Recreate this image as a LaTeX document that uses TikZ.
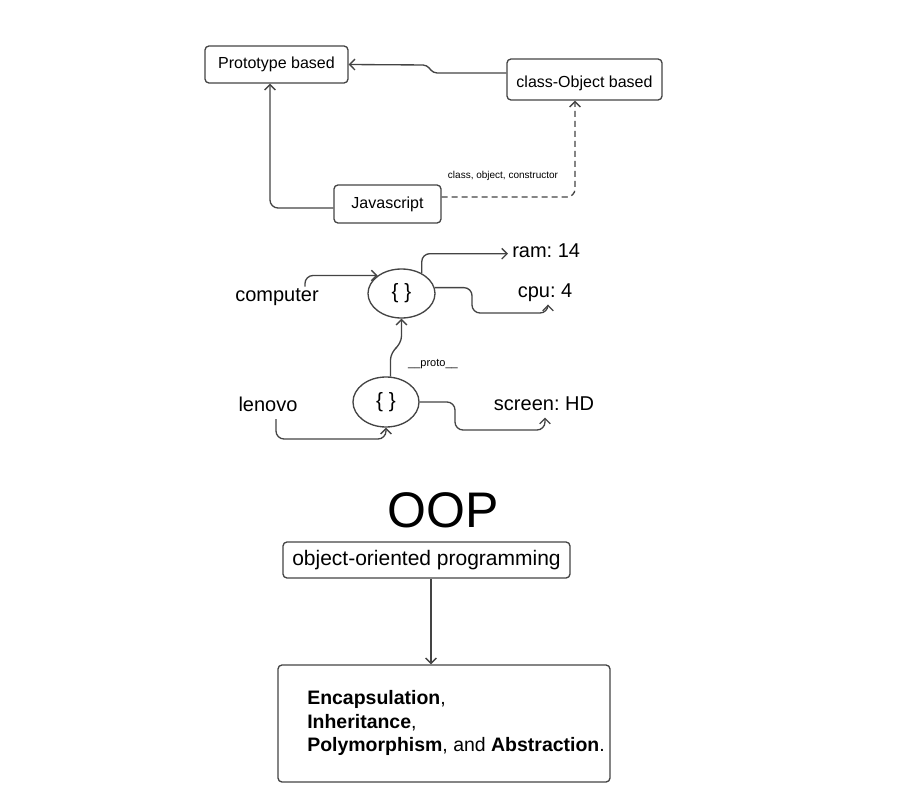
\documentclass[tikz,border=0pt]{standalone}
\usepackage{fontspec}
\setmainfont{Liberation Sans}
\usetikzlibrary{arrows.meta,shapes.geometric}
\definecolor{lc}{HTML}{444444}
\frenchspacing
\begin{document}
\frenchspacing
\begin{tikzpicture}[x=0.75pt,y=-0.75pt,
  box/.style={draw=lc, line width=1pt, rounded corners=3pt, fill=white, inner sep=0pt, font=\fontsize{12}{14}\selectfont},
  conn/.style={draw=lc, line width=1pt, -{Straight Barb[length=4pt,width=8pt]}, rounded corners=6pt},
  lbl/.style={inner sep=3pt, text height=0.75em, text depth=0.25em, font=\fontsize{15}{18}\selectfont},
  obj/.style={ellipse, draw=lc, line width=1pt, inner sep=0pt, font=\fontsize{15.5}{18}\selectfont}]
\useasboundingbox (0,0) rectangle (901,803);
% top part
\node[box, minimum width=107.25pt, minimum height=27.75pt] (proto) at (276.5,64.5) {Prototype based};
\node[box, minimum width=116.25pt, minimum height=30.75pt, text depth=0pt, text height=1.2em] (cob) at (584.5,79.5) {class-Object based};
\node[box, minimum width=80.25pt, minimum height=28.5pt] (js) at (387.5,204) {Javascript};
\node[font=\fontsize{7.5}{9}\selectfont] (cl) at (503,176) {class, object, constructor};
\draw[conn, rounded corners=3pt] (cob.west |- 0,73) -- (433,73) -- (427,65) -- (proto.east);
\draw[conn] (js.west |- 0,208) -| (proto.south -| 270,0);
\draw[conn, dash pattern=on 4.5pt off 3pt] (js.east |- 0,197) -| (cob.south -| 575,0);
% middle part
\node[obj, minimum width=50.25pt, minimum height=36.75pt] (e1) at (401.5,293.5) {\{ \}};
\node[obj, minimum width=49.5pt, minimum height=37.5pt] (e2) at (386,402) {\{ \}};
\node[lbl, anchor=base] (comp) at (277,301) {computer};
\node[lbl, anchor=base] (len) at (268,411.5) {lenovo};
\node[lbl, anchor=base west] (ram) at (508,257) {ram: 14};
\node[lbl, anchor=base] (cpu) at (545,297) {cpu: 4};
\node[lbl, anchor=base] (scr) at (544,410) {screen: HD};
\node[font=\fontsize{8.25}{10}\selectfont] (pr) at (433,364) {\_\_proto\_\_};
\draw[conn] (comp.north -| 305,0) |- (e1.143);
\draw[conn] (e1.45) |- (ram.west);
\draw[conn] (e1.10) -| (472,313) -| (cpu.south -| 548,0);
\draw[conn] (e2.80) -- (e2.80 |- 0,352) -- (e1.south |- 0,344) -- (e1.south);
\draw[conn] (len.south -| 276,0) |- (e2.south |- 0,439) -- (e2.south);
\draw[conn] (e2.east) -| (455,430) -| (scr.south -| 545,0);
% bottom part
\node[font=\fontsize{37.5}{40}\selectfont, anchor=base, inner sep=0pt] (oop) at (443.5,527) {OOP};
\node[box, minimum width=215.25pt, minimum height=27pt, font=\fontsize{15.75}{18}\selectfont] (oopb) at (426.5,560) {object-oriented programming};
\node[box, minimum width=249pt, minimum height=87.75pt] (big) at (444,723.5) {};
\node[anchor=north west, inner sep=0pt, align=left, font=\fontsize{14.6}{17.6}\selectfont] (pil) at (307,690.5) {\textbf{Encapsulation},\\ \textbf{Inheritance},\\ \textbf{Polymorphism}, and \textbf{Abstraction}.};
\draw[conn] (oopb.south -| 431,0) -- (big.north -| 431,0);
\end{tikzpicture}
\end{document}
